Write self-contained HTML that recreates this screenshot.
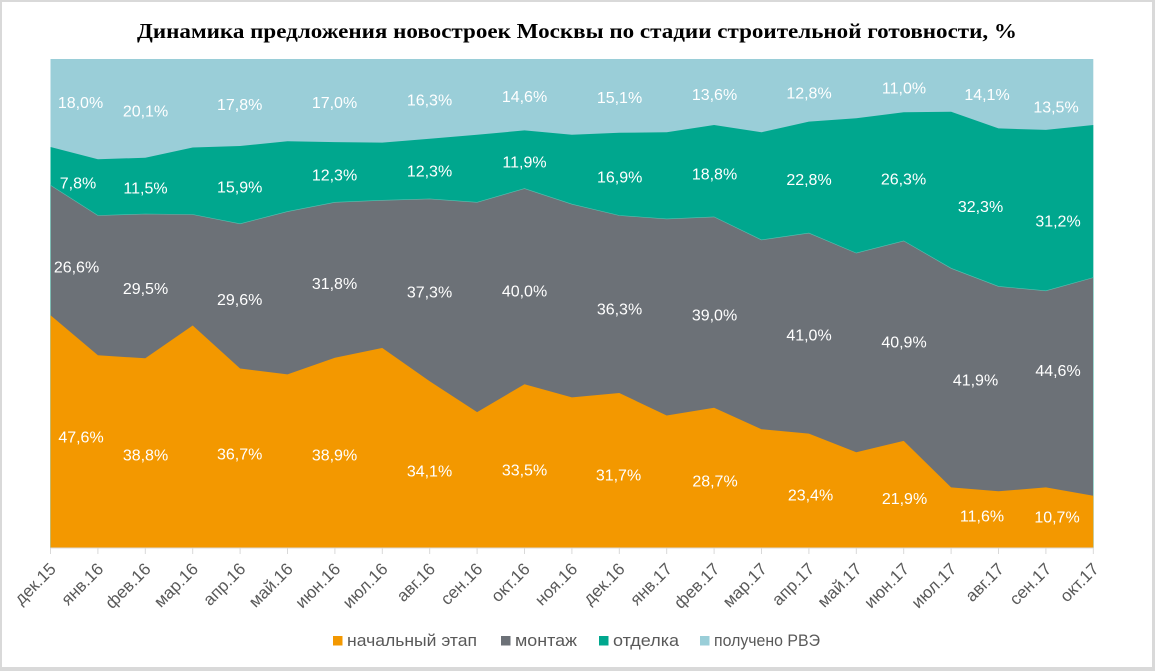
<!DOCTYPE html>
<html>
<head>
<meta charset="utf-8">
<style>
  html, body { margin:0; padding:0; background:#fff; }
  svg { display:block; }
  .dl { font-family:"Liberation Sans", Arial, sans-serif; font-size:16px; fill:#ffffff; text-anchor:middle; }
  .ax { font-family:"Liberation Sans", Arial, sans-serif; font-size:17px; fill:#595959; text-anchor:end; }
  .lg { font-family:"Liberation Sans", Arial, sans-serif; font-size:17px; fill:#595959; }
  .tt { font-family:"Liberation Serif", "Times New Roman", serif; font-size:21px; font-weight:bold; fill:#000; }
</style>
</head>
<body>
<svg width="1155" height="671" viewBox="0 0 1155 671" xmlns="http://www.w3.org/2000/svg">
  <rect x="0" y="0" width="1155" height="671" fill="#d9d9d9"/>
  <rect x="2" y="2" width="1150" height="665" fill="#ffffff"/>

  <text class="tt" x="137" y="38" textLength="880" lengthAdjust="spacingAndGlyphs">Динамика предложения новостроек Москвы по стадии строительной готовности, %</text>

  <!-- plot areas -->
  <rect x="50.5" y="59" width="1042.8" height="489" fill="#9ACED8"/>
  <polygon fill="#00A78E" points="50.5,147.0 97.9,159.2 145.3,157.8 192.7,147.5 240.1,146.0 287.5,141.2 334.9,142.1 382.3,142.6 429.7,138.7 477.1,134.8 524.5,130.4 571.9,134.8 619.3,132.8 666.7,132.3 714.1,125.0 761.5,132.3 808.9,121.6 856.3,118.2 903.7,112.3 951.1,111.8 998.5,128.4 1045.9,129.9 1093.3,125.0 1093.3,548 50.5,548"/>
  <polygon fill="#6C7177" stroke="#5cbfb0" stroke-width="0.6" points="50.5,185.2 97.9,215.5 145.3,214.0 192.7,214.5 240.1,223.8 287.5,211.6 334.9,202.3 382.3,200.3 429.7,198.9 477.1,202.3 524.5,188.6 571.9,204.2 619.3,215.5 666.7,218.9 714.1,216.9 761.5,239.9 808.9,233.1 856.3,253.1 903.7,240.9 951.1,268.3 998.5,286.4 1045.9,290.8 1093.3,277.6 1093.3,548 50.5,548"/>
  <polygon fill="#F39800" points="50.5,315.2 97.9,355.3 145.3,358.3 192.7,325.5 240.1,368.5 287.5,374.4 334.9,357.8 382.3,348.0 429.7,381.3 477.1,412.1 524.5,384.2 571.9,397.4 619.3,393.0 666.7,415.5 714.1,407.7 761.5,429.2 808.9,433.6 856.3,452.2 903.7,440.9 951.1,487.4 998.5,491.3 1045.9,487.4 1093.3,495.7 1093.3,548 50.5,548"/>

  <!-- axis -->
  <line x1="50.5" y1="548" x2="1093.3" y2="548" stroke="#d9d9d9" stroke-width="1"/>
  <g stroke="#d9d9d9" stroke-width="1">
    <line x1="50.5" y1="548" x2="50.5" y2="554"/>
    <line x1="97.9" y1="548" x2="97.9" y2="554"/>
    <line x1="145.3" y1="548" x2="145.3" y2="554"/>
    <line x1="192.7" y1="548" x2="192.7" y2="554"/>
    <line x1="240.1" y1="548" x2="240.1" y2="554"/>
    <line x1="287.5" y1="548" x2="287.5" y2="554"/>
    <line x1="334.9" y1="548" x2="334.9" y2="554"/>
    <line x1="382.3" y1="548" x2="382.3" y2="554"/>
    <line x1="429.7" y1="548" x2="429.7" y2="554"/>
    <line x1="477.1" y1="548" x2="477.1" y2="554"/>
    <line x1="524.5" y1="548" x2="524.5" y2="554"/>
    <line x1="571.9" y1="548" x2="571.9" y2="554"/>
    <line x1="619.3" y1="548" x2="619.3" y2="554"/>
    <line x1="666.7" y1="548" x2="666.7" y2="554"/>
    <line x1="714.1" y1="548" x2="714.1" y2="554"/>
    <line x1="761.5" y1="548" x2="761.5" y2="554"/>
    <line x1="808.9" y1="548" x2="808.9" y2="554"/>
    <line x1="856.3" y1="548" x2="856.3" y2="554"/>
    <line x1="903.7" y1="548" x2="903.7" y2="554"/>
    <line x1="951.1" y1="548" x2="951.1" y2="554"/>
    <line x1="998.5" y1="548" x2="998.5" y2="554"/>
    <line x1="1045.9" y1="548" x2="1045.9" y2="554"/>
    <line x1="1093.3" y1="548" x2="1093.3" y2="554"/>
  </g>

  <!-- x labels -->
  <g class="ax">
    <text transform="translate(57,570) rotate(-45)">дек.15</text>
    <text transform="translate(104.4,570) rotate(-45)">янв.16</text>
    <text transform="translate(151.8,570) rotate(-45)">фев.16</text>
    <text transform="translate(199.2,570) rotate(-45)">мар.16</text>
    <text transform="translate(246.6,570) rotate(-45)">апр.16</text>
    <text transform="translate(294,570) rotate(-45)">май.16</text>
    <text transform="translate(341.4,570) rotate(-45)">июн.16</text>
    <text transform="translate(388.8,570) rotate(-45)">июл.16</text>
    <text transform="translate(436.2,570) rotate(-45)">авг.16</text>
    <text transform="translate(483.6,570) rotate(-45)">сен.16</text>
    <text transform="translate(531,570) rotate(-45)">окт.16</text>
    <text transform="translate(578.4,570) rotate(-45)">ноя.16</text>
    <text transform="translate(625.8,570) rotate(-45)">дек.16</text>
    <text transform="translate(673.2,570) rotate(-45)">янв.17</text>
    <text transform="translate(720.6,570) rotate(-45)">фев.17</text>
    <text transform="translate(768,570) rotate(-45)">мар.17</text>
    <text transform="translate(815.4,570) rotate(-45)">апр.17</text>
    <text transform="translate(862.8,570) rotate(-45)">май.17</text>
    <text transform="translate(910.2,570) rotate(-45)">июн.17</text>
    <text transform="translate(957.6,570) rotate(-45)">июл.17</text>
    <text transform="translate(1005,570) rotate(-45)">авг.17</text>
    <text transform="translate(1052.4,570) rotate(-45)">сен.17</text>
    <text transform="translate(1099.8,570) rotate(-45)">окт.17</text>
  </g>

  <!-- data labels: получено РВЭ -->
  <g class="dl">
    <text x="80.5" y="108">18,0%</text>
    <text x="145.5" y="116.5">20,1%</text>
    <text x="239.7" y="110">17,8%</text>
    <text x="334.5" y="108">17,0%</text>
    <text x="429.5" y="105.5">16,3%</text>
    <text x="524.5" y="102">14,6%</text>
    <text x="619.5" y="103">15,1%</text>
    <text x="714.5" y="100">13,6%</text>
    <text x="809" y="98.3">12,8%</text>
    <text x="904" y="93.5">11,0%</text>
    <text x="987" y="100">14,1%</text>
    <text x="1056" y="112.5">13,5%</text>
  </g>
  <!-- отделка -->
  <g class="dl">
    <text x="78" y="188.3">7,8%</text>
    <text x="145.5" y="193.3">11,5%</text>
    <text x="239.7" y="192.7">15,9%</text>
    <text x="334.5" y="180.7">12,3%</text>
    <text x="429.5" y="176.7">12,3%</text>
    <text x="524.5" y="167.7">11,9%</text>
    <text x="619.7" y="182.7">16,9%</text>
    <text x="714.5" y="179.3">18,8%</text>
    <text x="809" y="185">22,8%</text>
    <text x="903.5" y="184.3">26,3%</text>
    <text x="980.5" y="212">32,3%</text>
    <text x="1058" y="226.7">31,2%</text>
  </g>
  <!-- монтаж -->
  <g class="dl">
    <text x="76.5" y="272.7">26,6%</text>
    <text x="145.5" y="294">29,5%</text>
    <text x="239.7" y="305">29,6%</text>
    <text x="334.5" y="289">31,8%</text>
    <text x="429.5" y="297.5">37,3%</text>
    <text x="524.5" y="296.5">40,0%</text>
    <text x="619.5" y="314.5">36,3%</text>
    <text x="714.5" y="320.5">39,0%</text>
    <text x="809" y="340.5">41,0%</text>
    <text x="904" y="347.5">40,9%</text>
    <text x="975.5" y="385.5">41,9%</text>
    <text x="1058" y="376">44,6%</text>
  </g>
  <!-- начальный этап -->
  <g class="dl">
    <text x="81" y="442.5">47,6%</text>
    <text x="145.5" y="460.5">38,8%</text>
    <text x="239.7" y="459.5">36,7%</text>
    <text x="334.5" y="460.5">38,9%</text>
    <text x="429.5" y="476.5">34,1%</text>
    <text x="524.5" y="475.5">33,5%</text>
    <text x="618.5" y="480.5">31,7%</text>
    <text x="715" y="486.5">28,7%</text>
    <text x="810.5" y="500.5">23,4%</text>
    <text x="904.5" y="504">21,9%</text>
    <text x="982" y="521.5">11,6%</text>
    <text x="1057" y="522.5">10,7%</text>
  </g>

  <!-- legend -->
  <rect x="333" y="636" width="9.5" height="9.5" fill="#F39800"/>
  <text class="lg" x="347" y="646" textLength="130" lengthAdjust="spacingAndGlyphs">начальный  этап</text>
  <rect x="501" y="636" width="9.5" height="9.5" fill="#6C7177"/>
  <text class="lg" x="515" y="646" textLength="62" lengthAdjust="spacingAndGlyphs">монтаж</text>
  <rect x="599" y="636" width="9.5" height="9.5" fill="#00A78E"/>
  <text class="lg" x="613" y="646" textLength="66" lengthAdjust="spacingAndGlyphs">отделка</text>
  <rect x="700" y="636" width="9.5" height="9.5" fill="#9ACED8"/>
  <text class="lg" x="714" y="646" textLength="106" lengthAdjust="spacingAndGlyphs">получено РВЭ</text>
</svg>
</body>
</html>
